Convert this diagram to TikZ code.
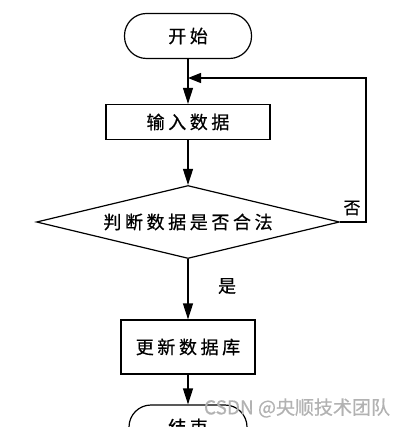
\documentclass[tikz,border=0pt]{standalone}
\usepackage{fontspec}
\newfontfamily\cjk[LetterSpace=20,FakeBold=0.6]{Noto Sans CJK SC}
\newfontfamily\cjklabel[FakeBold=0.6]{Noto Sans CJK SC}
\usetikzlibrary{shapes.geometric,arrows.meta}
\tikzset{
  terminal/.style={draw,line width=1.2pt,rounded corners=22pt,minimum width=127pt,minimum height=45pt,font=\cjk\fontsize{18}{20}\selectfont},
  process/.style={draw,line width=1.2pt,minimum width=164pt,minimum height=35pt,font=\cjk\fontsize{18}{20}\selectfont},
  decision/.style={draw,diamond,line width=1.2pt,inner sep=0pt,aspect=4.2,minimum width=303pt,minimum height=73pt,font=\cjk\fontsize{18}{20}\selectfont},
  flow/.style={line width=1.2pt,-{Triangle[length=16pt,width=10pt]}}
}
\begin{document}
\begin{tikzpicture}[x=1pt,y=-1pt]
\clip (0,0) rectangle (409,427);
\node[terminal] at (188,36) (start){开始};
\node[process] at (188,122) (input){输入数据};
\node[decision] at (188,222) (check){判断数据是否合法};
\node[process,minimum width=134pt,minimum height=54pt] at (188,347) (update){更新数据库};
\node[terminal,minimum width=118pt,minimum height=44pt] at (188,427) (finish){结束};
\coordinate (merge) at (188,78);
\coordinate (turn1) at (366,222);
\coordinate (turn2) at (366,78);
\draw[line width=1.2pt] (start) -- (merge);
\draw[flow] (merge) -- (input);
\draw[flow] (input) -- (check);
\draw[flow] (check) -- (update);
\draw[flow] (update) -- (finish);
\draw[line width=1.2pt,-{Triangle[length=13pt,width=10pt]}] (check.east) -- (turn1) -- (turn2) -- (merge);
\node[font=\cjklabel\fontsize{18}{20}\selectfont] at (227,286) (yes){是};
\node[font=\cjklabel\fontsize{17}{19}\selectfont] at (352,208) (no){否};
\node[font=\cjklabel\fontsize{19}{21}\selectfont,text=gray!60] at (297,408) (wm){CSDN @央顺技术团队};
\end{tikzpicture}
\end{document}
